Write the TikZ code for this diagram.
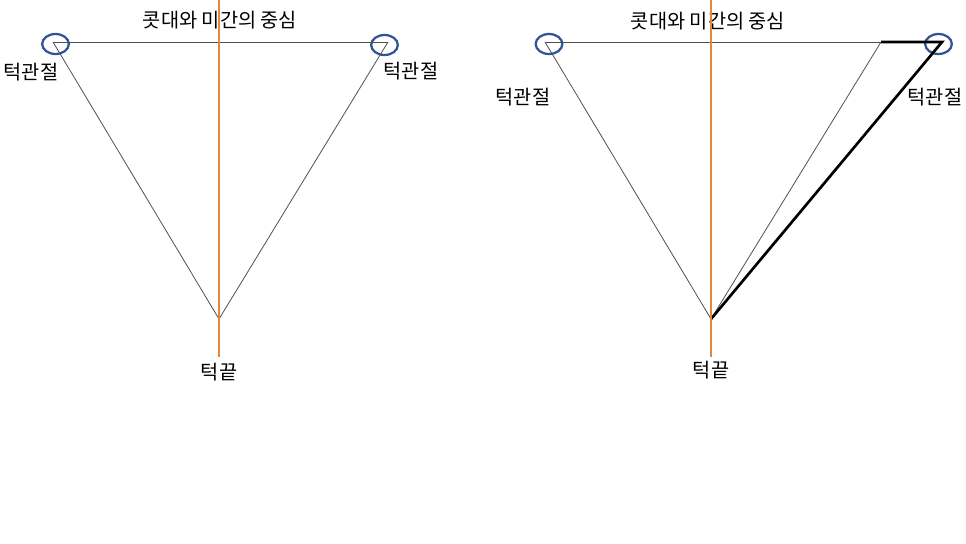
\documentclass[tikz,border=0pt]{standalone}
\usepackage{fontspec}
\setmainfont{Noto Sans CJK KR}
\definecolor{midline}{RGB}{233,132,60}
\definecolor{jointblue}{RGB}{47,85,151}
\definecolor{faceline}{RGB}{80,80,80}
\usetikzlibrary{shapes.geometric}
\tikzset{every picture/.style={line width=0.75pt}}
\tikzset{
  midaxis/.style={color=midline, line width=2pt},
  joint/.style={draw=jointblue, line width=1.7pt, ellipse, minimum width=20pt, minimum height=15pt, inner sep=0pt},
  thinedge/.style={color=faceline, line width=0.6pt},
  thickedge/.style={color=black, line width=2pt},
  lbl/.style={inner sep=0.75pt, font=\fontsize{14.8}{17}\selectfont}
}

\begin{document}
\begin{tikzpicture}[x=0.75pt,y=0.75pt,yscale=-1,xscale=1]
\path[use as bounding box] (0,0) rectangle (966,543);

%% left face
% Points
\coordinate (Ltop) at (219,0);
\coordinate (Lbot) at (219,357);
\coordinate (Lchin) at (219,319);
\coordinate (Ljl) at (53,42);
\coordinate (Ljr) at (388,42);
%Shape: Ellipse [id:jl-left]
\node [joint] (Lcl) at (55.5,44) {};
%Shape: Ellipse [id:jl-right]
\node [joint] (Lcr) at (384.5,45) {};
%Straight Lines [id:brow-left]
\draw [thinedge] (Ljl) -- (Ljr) ;
%Straight Lines [id:jaw-left-a]
\draw [thinedge] (Ljl) -- (Lchin) ;
%Straight Lines [id:jaw-left-b]
\draw [thinedge] (Ljr) -- (Lchin) ;

% Text Node
\draw (220,20) node [lbl] (Ltitle) {콧대와 미간의 중심};
% Text Node
\draw (31,72) node [lbl] (Llab1) {턱관절};
% Text Node
\draw (411,71) node [lbl] (Llab2) {턱관절};
% Text Node
\draw (219,372) node [lbl] (Llab3) {턱끝};
%Straight Lines [id:axis-left]
\draw [midaxis] (Ltop) -- (Lbot) ;

%% right face
% Points
\coordinate (Rtop) at (711,0);
\coordinate (Rbot) at (711,357);
\coordinate (Rchin) at (711,319);
\coordinate (Rjl) at (545,42);
\coordinate (Rjr) at (942,42);
\coordinate (Rmid) at (881,42);
%Shape: Ellipse [id:jr-left]
\node [joint] (Rcl) at (549,44) {};
%Shape: Ellipse [id:jr-right]
\node [joint] (Rcr) at (938.5,44) {};
%Straight Lines [id:brow-right]
\draw [thinedge] (Rjl) -- (Rmid) ;
%Straight Lines [id:jaw-right-a]
\draw [thinedge] (Rjl) -- (Rchin) ;
%Straight Lines [id:jaw-right-b]
\draw [thinedge] (Rmid) -- (Rchin) ;
%Straight Lines [id:jaw-right-c]
\draw [thickedge] (Rmid) -- (Rjr) -- (Rchin) ;

% Text Node
\draw (708,21) node [lbl] (Rtitle) {콧대와 미간의 중심};
% Text Node
\draw (523,97) node [lbl] (Rlab1) {턱관절};
% Text Node
\draw (935,97) node [lbl] (Rlab2) {턱관절};
% Text Node
\draw (711,370) node [lbl] (Rlab3) {턱끝};
%Straight Lines [id:axis-right]
\draw [midaxis] (Rtop) -- (Rbot) ;
\end{tikzpicture}
\end{document}
